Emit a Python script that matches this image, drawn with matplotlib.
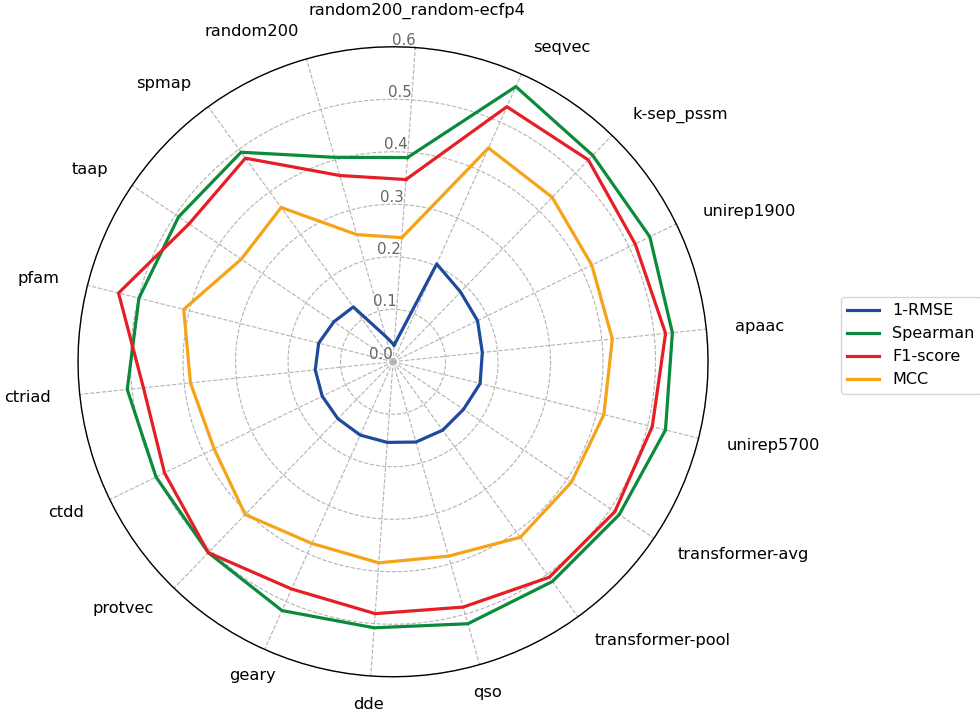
import matplotlib.pyplot as plt
import numpy as np

# feature sets, clockwise from the top
categories = ['random200_random-ecfp4', 'seqvec', 'k-sep_pssm', 'unirep1900', 'apaac',
              'unirep5700', 'transformer-avg', 'transformer-pool', 'qso', 'dde', 'geary',
              'protvec', 'ctdd', 'ctriad', 'pfam', 'taap', 'spmap', 'random200']

rmse_inv = [0.032, 0.204, 0.185, 0.179, 0.171, 0.171, 0.162, 0.161, 0.159,
            0.154, 0.153, 0.151, 0.150, 0.149, 0.146, 0.136, 0.129, 0.050]
spearman = [0.390, 0.574, 0.547, 0.544, 0.535, 0.535, 0.520, 0.517, 0.519,
            0.508, 0.519, 0.506, 0.502, 0.509, 0.499, 0.493, 0.493, 0.405]
f1 = [0.348, 0.532, 0.535, 0.513, 0.522, 0.509, 0.510, 0.507, 0.486,
      0.481, 0.474, 0.506, 0.484, 0.478, 0.539, 0.469, 0.479, 0.369]
mcc = [0.237, 0.446, 0.436, 0.421, 0.420, 0.414, 0.410, 0.413, 0.385,
       0.384, 0.379, 0.405, 0.379, 0.388, 0.411, 0.349, 0.363, 0.252]

metric_names = ['1-RMSE', 'Spearman', 'F1-score', 'MCC']
colors = ['#1f4a9c', '#0b8a3c', '#e41f26', '#f5a318']
r_ticks = [0.0, 0.1, 0.2, 0.3, 0.4, 0.5, 0.6]

n = len(categories)
angles = np.linspace(0, 2 * np.pi, n, endpoint=False)
closed = np.append(angles, angles[0])

fig = plt.figure(figsize=(9.8, 7.12), dpi=100)
ax = fig.add_axes([0.0796, 0.0495, 0.6429, 0.8848], projection='polar')
offset = 1.5
ax.set_theta_offset(offset)
ax.set_theta_direction(-1)

for name, vals, col in zip(metric_names, [rmse_inv, spearman, f1, mcc], colors):
    ax.plot(closed, np.append(vals, vals[0]), color=col, lw=2.3, label=name)

ax.set_ylim(0, 0.6)
ax.set_yticks(r_ticks)
ax.set_yticklabels([f'{t:.1f}' for t in r_ticks], color='#666666', fontsize=10.8)
ax.set_rlabel_position(0)
for lab in ax.get_yticklabels():
    lab.set_horizontalalignment('right')
    lab.set_verticalalignment('bottom')

ax.set_xticks(angles)
ax.set_xticklabels(categories, fontsize=11.7)
ax.tick_params(axis='x', pad=10.2)

# push long names away from the circle depending on which side they sit
deg = (np.degrees(angles) + 90 - np.degrees(offset)) % 360
for lab, a in zip(ax.get_xticklabels(), deg):
    if a < 10:
        lab.set_horizontalalignment('center')
        lab.set_verticalalignment('bottom')
    elif 150 < a < 210:
        lab.set_horizontalalignment('center')
    elif a < 180:
        lab.set_horizontalalignment('left')
    else:
        lab.set_horizontalalignment('right')

ax.grid(True, color='#b3b3b3', linestyle='--', linewidth=0.8)
ax.spines['polar'].set_linewidth(1.0)

ax.legend(loc='center left', bbox_to_anchor=(0.858, 0.515), bbox_transform=fig.transFigure,
          borderaxespad=0, fontsize=11.5)

fig.savefig('out.png', dpi=100)
